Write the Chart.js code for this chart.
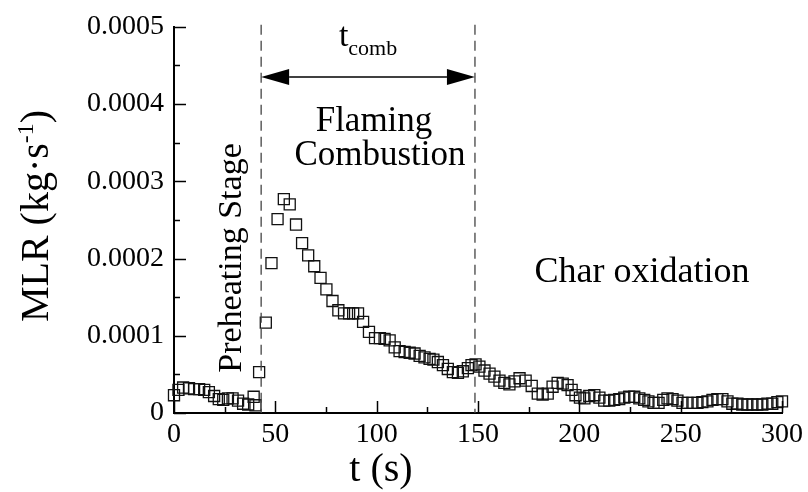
<!DOCTYPE html>
<html>
<head>
<meta charset="utf-8">
<script src="https://cdn.jsdelivr.net/npm/chart.js@4.4.1/dist/chart.umd.min.js"></script>
<style>
  html, body { margin: 0; padding: 0; background: #fff; }
  canvas { display: block; }
</style>
</head>
<body>
<canvas id="mlrChart" width="808" height="492"></canvas>
<script>
// ── DATA ────────────────────────────────────────────────────────────────
// time (s)
const times = [
    0, 2.2, 4.5, 7.4, 9.9, 12.4, 14.9, 17.2, 19.8, 22.1, 24.3, 26.6, 28.9, 31.6, 34.1, 36.6, 39.3, 40.2,
    42.0, 45.3, 48.1, 51.1, 54.2, 57.1, 60.2, 63.2, 66.2, 69.2, 72.3, 75.2, 78.2, 81.1, 83.9, 86.4,
    88.4, 90.8, 93.3, 96.2, 99.2, 101.6, 103.9, 106.4, 108.9, 111.3, 113.8, 116.3, 118.7, 121.2,
    123.6, 126.1, 128.0, 130.2, 132.7, 135.1, 137.6, 140.1, 142.5, 145.0, 146.8, 148.8, 150.7,
    153.2, 155.7, 158.1, 160.6, 163.0, 165.5, 168.0, 170.5, 173.5, 176.5, 179.5, 181.9, 184.4,
    186.8, 189.3, 191.8, 194.2, 196.2, 198.1, 200.3, 202.5, 204.9, 207.4, 209.9, 212.3, 214.8,
    217.2, 219.7, 222.2, 224.6, 227.1, 229.6, 232.0, 234.1, 236.6, 239.1, 241.4, 243.5, 246.0,
    248.4, 250.9, 253.4, 255.8, 258.3, 260.7, 263.2, 265.7, 268.1, 270.6, 273.1, 275.5, 278.0,
    280.4, 282.9, 285.4, 287.8, 290.3, 292.8, 295.2, 297.7, 300.0
];
// mass loss rate, in units of 1e-4 kg/s
const mlrE4 = [
    0.23, 0.30, 0.33, 0.32, 0.31, 0.31, 0.30, 0.27, 0.22, 0.18, 0.17, 0.19, 0.19, 0.16, 0.12, 0.11, 0.21, 0.10,
    0.53, 1.17, 1.94, 2.51, 2.77, 2.70, 2.44, 2.20, 2.04, 1.90, 1.75, 1.60, 1.45, 1.33, 1.29, 1.29,
    1.29, 1.29, 1.18, 1.05, 0.97, 0.97, 0.96, 0.94, 0.85, 0.80, 0.79, 0.78, 0.77, 0.74,
    0.72, 0.70, 0.69, 0.66, 0.62, 0.57, 0.53, 0.52, 0.54, 0.58, 0.62, 0.63, 0.60,
    0.55, 0.51, 0.47, 0.42, 0.39, 0.37, 0.41, 0.45, 0.42, 0.35, 0.25, 0.24, 0.25,
    0.34, 0.39, 0.38, 0.36, 0.30, 0.23, 0.20, 0.19, 0.22, 0.23, 0.20, 0.16, 0.16,
    0.17, 0.18, 0.20, 0.21, 0.21, 0.19, 0.17, 0.15, 0.13, 0.13, 0.17, 0.19, 0.18,
    0.16, 0.13, 0.13, 0.13, 0.13, 0.14, 0.15, 0.17, 0.18, 0.18, 0.15, 0.12, 0.12,
    0.11, 0.11, 0.11, 0.11, 0.11, 0.12, 0.12, 0.14, 0.15
];
const xTickLabels = ["0", "50", "100", "150", "200", "250", "300"];
const yTickLabels = ["0", "0.0001", "0.0002", "0.0003", "0.0004", "0.0005"];

// stage boundaries (s)
const combStart = 43;
const combEnd = 148.5;

const SERIF = "'Liberation Serif', 'Times New Roman', serif";

// ── Custom drawing: inward ticks, titles, annotations ─────────────────────
const decorPlugin = {
    id: "decor",
    afterDraw(chart) {
        const ctx = chart.ctx;
        const xs = chart.scales.x, ys = chart.scales.y;
        const area = chart.chartArea;
        ctx.save();

        // inward tick marks (major + minor)
        ctx.strokeStyle = "#000";
        ctx.lineWidth = 1.5;
        for (let t = 0; t <= 300; t += 25) {
            const px = Math.round(xs.getPixelForValue(t)) + 0.5;
            const len = t % 50 === 0 ? 12 : 6;
            ctx.beginPath(); ctx.moveTo(px, area.bottom); ctx.lineTo(px, area.bottom - len); ctx.stroke();
        }
        for (let i = 0; i <= 10; i++) {
            const py = Math.round(ys.getPixelForValue(i * 0.00005)) + 0.5;
            const len = i % 2 === 0 ? 12 : 6;
            ctx.beginPath(); ctx.moveTo(area.left, py); ctx.lineTo(area.left + len, py); ctx.stroke();
        }

        // dashed stage boundaries
        ctx.strokeStyle = "#444";
        ctx.lineWidth = 1.3;
        ctx.setLineDash([10, 6]);
        [combStart, combEnd].forEach(t => {
            const px = xs.getPixelForValue(t);
            ctx.beginPath(); ctx.moveTo(px, area.top - 2); ctx.lineTo(px, area.bottom); ctx.stroke();
        });
        ctx.setLineDash([]);

        // double arrow for t_comb
        const x1 = xs.getPixelForValue(combStart), x2 = xs.getPixelForValue(combEnd);
        const ay = ys.getPixelForValue(0.000435);
        const head = 28, half = 8;
        ctx.strokeStyle = "#000";
        ctx.fillStyle = "#000";
        ctx.lineWidth = 1.5;
        ctx.beginPath(); ctx.moveTo(x1 + head, ay); ctx.lineTo(x2 - head, ay); ctx.stroke();
        ctx.beginPath(); ctx.moveTo(x1, ay); ctx.lineTo(x1 + head, ay - half); ctx.lineTo(x1 + head, ay + half); ctx.closePath(); ctx.fill();
        ctx.beginPath(); ctx.moveTo(x2, ay); ctx.lineTo(x2 - head, ay - half); ctx.lineTo(x2 - head, ay + half); ctx.closePath(); ctx.fill();

        // t_comb label
        ctx.textBaseline = "alphabetic";
        ctx.textAlign = "left";
        ctx.font = `34px ${SERIF}`;
        const wT = ctx.measureText("t").width;
        ctx.font = `22px ${SERIF}`;
        const wSub = ctx.measureText("comb").width;
        const cx = (x1 + x2) / 2;
        let sx = cx - (wT + wSub) / 2;
        ctx.font = `34px ${SERIF}`;
        ctx.fillText("t", sx, 46);
        ctx.font = `22px ${SERIF}`;
        ctx.fillText("comb", sx + wT, 55);

        // stage texts
        ctx.font = `35px ${SERIF}`;
        ctx.textAlign = "center";
        ctx.fillText("Flaming", 374, 131);
        ctx.fillText("Combustion", 380, 165);
        ctx.font = `36px ${SERIF}`;
        ctx.fillText("Char oxidation", 642, 282);

        ctx.save();
        ctx.font = `34px ${SERIF}`;
        ctx.translate(241, 258);
        ctx.rotate(-Math.PI / 2);
        ctx.fillText("Preheating Stage", 0, 0);
        ctx.restore();

        // x title
        ctx.font = `40px ${SERIF}`;
        ctx.fillText("t (s)", 381, 481);

        // y title with superscript
        ctx.save();
        ctx.translate(48, 216);
        ctx.rotate(-Math.PI / 2);
        ctx.textAlign = "left";
        ctx.font = `40px ${SERIF}`;
        const a = "MLR (kg\u00B7s", c = ")";
        const wA = ctx.measureText(a).width, wC = ctx.measureText(c).width;
        ctx.font = `24px ${SERIF}`;
        const wB = ctx.measureText("-1").width;
        let rx = -(wA + wB + wC) / 2;
        ctx.font = `40px ${SERIF}`;
        ctx.fillText(a, rx, 0);
        ctx.font = `24px ${SERIF}`;
        ctx.fillText("-1", rx + wA, -15);
        ctx.font = `40px ${SERIF}`;
        ctx.fillText(c, rx + wA + wB, 0);
        ctx.restore();

        ctx.restore();
    }
};

// ── Chart ────────────────────────────────────────────────────────────────
const points = times.map((t, i) => ({ x: t, y: mlrE4[i] * 1e-4 }));

new Chart(document.getElementById("mlrChart"), {
    type: "scatter",
    data: {
        datasets: [{
            data: points,
            pointStyle: "rect",
            pointRadius: 7.8,
            pointHoverRadius: 7.8,
            borderColor: "#111",
            borderWidth: 1.3,
            backgroundColor: "rgba(0,0,0,0)",
            clip: false
        }]
    },
    options: {
        responsive: false,
        animation: false,
        events: [],
        layout: { padding: { top: 24, right: 25, left: 0, bottom: 0 } },
        plugins: { legend: { display: false }, tooltip: { enabled: false } },
        scales: {
            x: {
                type: "linear",
                min: 0, max: 300,
                afterFit: s => { s.height = 79; },
                grid: { display: false, drawTicks: false },
                border: { display: true, color: "#000", width: 2 },
                ticks: {
                    stepSize: 50,
                    padding: 5,
                    color: "#000",
                    font: { family: SERIF, size: 28 },
                    maxRotation: 0,
                    callback: (v, i) => xTickLabels[i]
                }
            },
            y: {
                type: "linear",
                min: 0, max: 0.0005,
                afterFit: s => { s.width = 174; },
                grid: { display: false, drawTicks: false },
                border: { display: true, color: "#000", width: 2 },
                ticks: {
                    stepSize: 0.0001,
                    padding: 10,
                    color: "#000",
                    font: { family: SERIF, size: 28 },
                    callback: (v, i) => yTickLabels[i]
                }
            }
        }
    },
    plugins: [decorPlugin]
});
</script>
</body>
</html>
